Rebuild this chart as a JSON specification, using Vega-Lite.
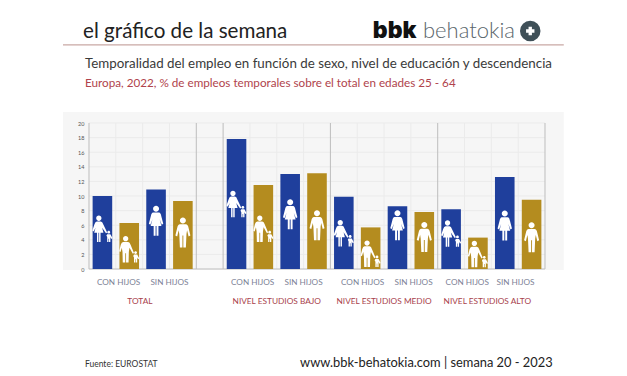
{
"$schema":"https://vega.github.io/schema/vega-lite/v6.json",
"width":456,"height":146,
"autosize":{"type":"none"},
"padding":{"left":89,"top":123,"right":82,"bottom":107},
"background":"white",
"config":{"view":{"stroke":null},"axisY":{"grid":false,"domain":false,"ticks":false,"labelFontSize":5.5,"labelColor":"#555555","labelFont":"Lato","labelPadding":5}},
"datasets":{
"barras":[
{"grupo":"TOTAL","hijos":"CON HIJOS","sexo":"Mujer","barra":1,"valor":10.0,"icono":5.5},
{"grupo":"TOTAL","hijos":"CON HIJOS","sexo":"Hombre","barra":2,"valor":6.3,"icono":2.7},
{"grupo":"TOTAL","hijos":"SIN HIJOS","sexo":"Mujer","barra":3,"valor":10.9,"icono":6.6},
{"grupo":"TOTAL","hijos":"SIN HIJOS","sexo":"Hombre","barra":4,"valor":9.3,"icono":5.0},
{"grupo":"NIVEL ESTUDIOS BAJO","hijos":"CON HIJOS","sexo":"Mujer","barra":6,"valor":17.8,"icono":8.9},
{"grupo":"NIVEL ESTUDIOS BAJO","hijos":"CON HIJOS","sexo":"Hombre","barra":7,"valor":11.5,"icono":5.5},
{"grupo":"NIVEL ESTUDIOS BAJO","hijos":"SIN HIJOS","sexo":"Mujer","barra":8,"valor":13.0,"icono":7.5},
{"grupo":"NIVEL ESTUDIOS BAJO","hijos":"SIN HIJOS","sexo":"Hombre","barra":9,"valor":13.1,"icono":6.0},
{"grupo":"NIVEL ESTUDIOS MEDIO","hijos":"CON HIJOS","sexo":"Mujer","barra":10,"valor":9.9,"icono":4.9},
{"grupo":"NIVEL ESTUDIOS MEDIO","hijos":"CON HIJOS","sexo":"Hombre","barra":11,"valor":5.7,"icono":2.1},
{"grupo":"NIVEL ESTUDIOS MEDIO","hijos":"SIN HIJOS","sexo":"Mujer","barra":12,"valor":8.6,"icono":6.0},
{"grupo":"NIVEL ESTUDIOS MEDIO","hijos":"SIN HIJOS","sexo":"Hombre","barra":13,"valor":7.8,"icono":4.4},
{"grupo":"NIVEL ESTUDIOS ALTO","hijos":"CON HIJOS","sexo":"Mujer","barra":14,"valor":8.2,"icono":4.85},
{"grupo":"NIVEL ESTUDIOS ALTO","hijos":"CON HIJOS","sexo":"Hombre","barra":15,"valor":4.3,"icono":2.05},
{"grupo":"NIVEL ESTUDIOS ALTO","hijos":"SIN HIJOS","sexo":"Mujer","barra":16,"valor":12.6,"icono":5.95},
{"grupo":"NIVEL ESTUDIOS ALTO","hijos":"SIN HIJOS","sexo":"Hombre","barra":17,"valor":9.5,"icono":4.35}
],
"hijos":[
{"t":"CON HIJOS","p":1.1},{"t":"SIN HIJOS","p":3.0},
{"t":"CON HIJOS","p":6.1},{"t":"SIN HIJOS","p":8.0},
{"t":"CON HIJOS","p":10.2},{"t":"SIN HIJOS","p":12.1},
{"t":"CON HIJOS","p":14.1},{"t":"SIN HIJOS","p":15.9}
],
"grupos":[
{"t":"TOTAL","p":1.9},{"t":"NIVEL ESTUDIOS BAJO","p":7.0},
{"t":"NIVEL ESTUDIOS MEDIO","p":11.0},{"t":"NIVEL ESTUDIOS ALTO","p":14.85}
]
},
"resolve":{"scale":{"x":"independent","shape":"independent"}},
"layer":[
{"data":{"values":[{"z":"fondo"}]},"mark":{"type":"rect","fill":"#f6f6f6"},
 "encoding":{"x":{"datum":-0.97,"type":"quantitative","scale":{"domain":[0,17]},"axis":null},"x2":{"datum":17.7},
 "y":{"datum":-0.14,"type":"quantitative","scale":{"domain":[0,20]},"title":null,"axis":{"zindex":1,"values":[0,2,4,6,8,10,12,14,16,18,20]}},"y2":{"datum":21.5}}},
{"data":{"values":[{"v":2},{"v":4},{"v":6},{"v":8},{"v":10},{"v":12},{"v":14},{"v":16},{"v":18},{"v":20}]},"mark":{"type":"rule","stroke":"#ebebeb","strokeWidth":1},
 "encoding":{"y":{"field":"v","type":"quantitative","scale":{"domain":[0,20]},"title":null,"axis":{"zindex":1,"values":[0,2,4,6,8,10,12,14,16,18,20]}},
 "x":{"datum":0,"type":"quantitative","scale":{"domain":[0,17]},"axis":null},"x2":{"datum":17}}},
{"data":{"values":[{"v":1},{"v":2},{"v":3},{"v":6},{"v":7},{"v":8},{"v":10},{"v":11},{"v":12},{"v":14},{"v":15},{"v":16}]},"mark":{"type":"rule","stroke":"#ebebeb","strokeWidth":1},
 "encoding":{"x":{"field":"v","type":"quantitative","scale":{"domain":[0,17]},"axis":null},
 "y":{"datum":0,"type":"quantitative","scale":{"domain":[0,20]},"title":null,"axis":{"zindex":1,"values":[0,2,4,6,8,10,12,14,16,18,20]}},"y2":{"datum":20}}},
{"data":{"values":[{"v":0},{"v":4},{"v":5},{"v":9},{"v":13},{"v":17}]},"mark":{"type":"rule","stroke":"#bdbdbd","strokeWidth":1},
 "encoding":{"x":{"field":"v","type":"quantitative","scale":{"domain":[0,17]},"axis":null},
 "y":{"datum":0,"type":"quantitative","scale":{"domain":[0,20]},"title":null,"axis":{"zindex":1,"values":[0,2,4,6,8,10,12,14,16,18,20]}},"y2":{"datum":20}}},
{"data":{"values":[{"z":"base"}]},"mark":{"type":"rule","stroke":"#bdbdbd","strokeWidth":1},
 "encoding":{"x":{"datum":0,"type":"quantitative","scale":{"domain":[0,17]},"axis":null},"x2":{"datum":17},
 "y":{"datum":0,"type":"quantitative","scale":{"domain":[0,20]},"title":null,"axis":{"zindex":1,"values":[0,2,4,6,8,10,12,14,16,18,20]}}}},
{"data":{"name":"barras"},"mark":{"type":"bar"},
 "encoding":{"x":{"field":"barra","type":"ordinal","scale":{"type":"band","domain":[1,2,3,4,5,6,7,8,9,10,11,12,13,14,15,16,17],"paddingInner":0.27,"paddingOuter":0.135},"axis":null},
 "y":{"field":"valor","type":"quantitative","scale":{"domain":[0,20]},"title":null,"axis":{"zindex":1,"values":[0,2,4,6,8,10,12,14,16,18,20]}},
 "color":{"field":"sexo","type":"nominal","scale":{"domain":["Mujer","Hombre"],"range":["#1f3f9c","#b48c1f"]},"legend":null}}},
{"data":{"name":"barras"},"transform":[{"filter":"datum.hijos=='CON HIJOS'"}],
 "mark":{"type":"point","filled":true,"fill":"white","opacity":1,"size":700},
 "encoding":{"x":{"field":"barra","type":"ordinal","scale":{"type":"band","domain":[1,2,3,4,5,6,7,8,9,10,11,12,13,14,15,16,17],"paddingInner":0.27,"paddingOuter":0.135},"axis":null},
 "y":{"field":"icono","type":"quantitative","scale":{"domain":[0,20]},"title":null,"axis":{"zindex":1,"values":[0,2,4,6,8,10,12,14,16,18,20]}},
 "shape":{"field":"sexo","type":"nominal","legend":null,"scale":{"domain":["Mujer","Hombre"],"range":[
 "M-0.27,-1A0.2,0.2 0 1,1 -0.27,-0.6A0.2,0.2 0 1,1 -0.27,-1ZM-0.42,-0.56L-0.12,-0.56Q0,-0.56 0.06,-0.34L0.36,0.28L0.27,0.34L-0.02,-0.08L0.08,0.3L-0.14,0.3L-0.14,1L-0.25,1L-0.25,0.3L-0.3,0.3L-0.3,1L-0.41,1L-0.41,0.3L-0.62,0.3L-0.52,-0.08L-0.66,0.2L-0.76,0.12L-0.6,-0.34Q-0.54,-0.56 -0.42,-0.56ZM0.48,0.14A0.11,0.11 0 1,1 0.48,0.36A0.11,0.11 0 1,1 0.48,0.14ZM0.36,0.4L0.6,0.4L0.76,0.7L0.67,0.76L0.6,0.62L0.6,1L0.5,1L0.5,0.75L0.46,0.75L0.46,1L0.36,1L0.36,0.62L0.3,0.5Z",
 "M-0.27,-1A0.2,0.2 0 1,1 -0.27,-0.6A0.2,0.2 0 1,1 -0.27,-1ZM-0.46,-0.56L-0.08,-0.56Q0.04,-0.56 0.1,-0.34L0.36,0.28L0.27,0.34L0.02,-0.12L-0.03,0.2L-0.05,1L-0.24,1L-0.24,0.3L-0.3,0.3L-0.3,1L-0.49,1L-0.51,0.2L-0.56,-0.12L-0.66,0.2L-0.76,0.14L-0.64,-0.34Q-0.58,-0.56 -0.46,-0.56ZM0.48,0.14A0.11,0.11 0 1,1 0.48,0.36A0.11,0.11 0 1,1 0.48,0.14ZM0.36,0.4L0.6,0.4L0.76,0.7L0.67,0.76L0.6,0.62L0.6,1L0.5,1L0.5,0.75L0.46,0.75L0.46,1L0.36,1L0.36,0.62L0.3,0.5Z"
 ]}}}},
{"data":{"name":"barras"},"transform":[{"filter":"datum.hijos=='SIN HIJOS'"}],
 "mark":{"type":"point","filled":true,"fill":"white","opacity":1,"size":900},
 "encoding":{"x":{"field":"barra","type":"ordinal","scale":{"type":"band","domain":[1,2,3,4,5,6,7,8,9,10,11,12,13,14,15,16,17],"paddingInner":0.27,"paddingOuter":0.135},"axis":null},
 "y":{"field":"icono","type":"quantitative","scale":{"domain":[0,20]},"title":null,"axis":{"zindex":1,"values":[0,2,4,6,8,10,12,14,16,18,20]}},
 "shape":{"field":"sexo","type":"nominal","legend":null,"scale":{"domain":["Mujer","Hombre"],"range":[
 "M0,-1A0.2,0.2 0 1,1 0,-0.6A0.2,0.2 0 1,1 0,-1ZM-0.2,-0.55L0.2,-0.55Q0.3,-0.55 0.35,-0.3L0.48,0.2L0.38,0.26L0.24,-0.1L0.36,0.35L0.16,0.35L0.16,1L0.03,1L0.03,0.35L-0.03,0.35L-0.03,1L-0.16,1L-0.16,0.35L-0.36,0.35L-0.24,-0.1L-0.38,0.26L-0.48,0.2L-0.35,-0.3Q-0.3,-0.55 -0.2,-0.55Z",
 "M0,-1A0.2,0.2 0 1,1 0,-0.6A0.2,0.2 0 1,1 0,-1ZM-0.2,-0.55L0.2,-0.55Q0.33,-0.55 0.38,-0.3L0.5,0.2L0.38,0.26L0.28,-0.15L0.24,0.1L0.2,1L0.03,1L0.03,0.2L-0.03,0.2L-0.03,1L-0.2,1L-0.24,0.1L-0.28,-0.15L-0.38,0.26L-0.5,0.2L-0.38,-0.3Q-0.33,-0.55 -0.2,-0.55Z"
 ]}}}},
{"data":{"name":"hijos"},"mark":{"type":"text","font":"Lato","fontSize":8.2,"fill":"#7d8296"},
 "encoding":{"x":{"field":"p","type":"quantitative","scale":{"domain":[0,17]},"axis":null},
 "y":{"datum":-1.9,"type":"quantitative","scale":{"domain":[0,20]},"title":null,"axis":{"zindex":1,"values":[0,2,4,6,8,10,12,14,16,18,20]}},"text":{"field":"t"}}},
{"data":{"name":"grupos"},"mark":{"type":"text","font":"Lato","fontSize":8.3,"fill":"#a8424c"},
 "encoding":{"x":{"field":"p","type":"quantitative","scale":{"domain":[0,17]},"axis":null},
 "y":{"datum":-4.5,"type":"quantitative","scale":{"domain":[0,20]},"title":null,"axis":{"zindex":1,"values":[0,2,4,6,8,10,12,14,16,18,20]}},"text":{"field":"t"}}},
{"data":{"values":[{"z":"linea"}]},"mark":{"type":"rule","stroke":"#c9a8a4","strokeWidth":1.2},
 "encoding":{"x":{"datum":-0.97,"type":"quantitative","scale":{"domain":[0,17]},"axis":null},"x2":{"datum":17.7},
 "y":{"datum":30.7,"type":"quantitative","scale":{"domain":[0,20]},"title":null,"axis":{"zindex":1,"values":[0,2,4,6,8,10,12,14,16,18,20]}}}},
{"data":{"values":[{"t":"el gráfico de la semana"}]},"mark":{"type":"text","font":"Lato","fontSize":20.6,"align":"left","baseline":"alphabetic","fill":"#222222"},
 "encoding":{"x":{"datum":-0.22,"type":"quantitative","scale":{"domain":[0,17]},"axis":null},
 "y":{"datum":31.7,"type":"quantitative","scale":{"domain":[0,20]},"title":null,"axis":{"zindex":1,"values":[0,2,4,6,8,10,12,14,16,18,20]}},"text":{"field":"t"}}},
{"data":{"values":[{"t":"bbk"}]},"mark":{"type":"text","font":"Inter","fontWeight":900,"fontSize":23,"align":"left","baseline":"alphabetic","fill":"#111111"},
 "encoding":{"x":{"datum":10.58,"type":"quantitative","scale":{"domain":[0,17]},"axis":null},
 "y":{"datum":31.7,"type":"quantitative","scale":{"domain":[0,20]},"title":null,"axis":{"zindex":1,"values":[0,2,4,6,8,10,12,14,16,18,20]}},"text":{"field":"t"}}},
{"data":{"values":[{"t":"behatokia"}]},"mark":{"type":"text","font":"Lato","fontWeight":300,"fontSize":22,"align":"left","baseline":"alphabetic","fill":"#5a666c"},
 "encoding":{"x":{"datum":12.45,"type":"quantitative","scale":{"domain":[0,17]},"axis":null},
 "y":{"datum":31.7,"type":"quantitative","scale":{"domain":[0,20]},"title":null,"axis":{"zindex":1,"values":[0,2,4,6,8,10,12,14,16,18,20]}},"text":{"field":"t"}}},
{"data":{"values":[{"z":"logo"}]},"mark":{"type":"point","filled":true,"shape":"circle","fill":"#3f5058","opacity":1,"size":420},
 "encoding":{"x":{"datum":16.45,"type":"quantitative","scale":{"domain":[0,17]},"axis":null},
 "y":{"datum":32.6,"type":"quantitative","scale":{"domain":[0,20]},"title":null,"axis":{"zindex":1,"values":[0,2,4,6,8,10,12,14,16,18,20]}}}},
{"data":{"values":[{"z":"mas"}]},"mark":{"type":"point","filled":true,"shape":"cross","fill":"white","opacity":1,"size":70},
 "encoding":{"x":{"datum":16.45,"type":"quantitative","scale":{"domain":[0,17]},"axis":null},
 "y":{"datum":32.6,"type":"quantitative","scale":{"domain":[0,20]},"title":null,"axis":{"zindex":1,"values":[0,2,4,6,8,10,12,14,16,18,20]}}}},
{"data":{"values":[{"t":"Temporalidad del empleo en función de sexo, nivel de educación y descendencia"}]},"mark":{"type":"text","font":"Lato","fontSize":13.35,"align":"left","baseline":"alphabetic","fill":"#3a3a3a"},
 "encoding":{"x":{"datum":-0.15,"type":"quantitative","scale":{"domain":[0,17]},"axis":null},
 "y":{"datum":27.6,"type":"quantitative","scale":{"domain":[0,20]},"title":null,"axis":{"zindex":1,"values":[0,2,4,6,8,10,12,14,16,18,20]}},"text":{"field":"t"}}},
{"data":{"values":[{"t":"Europa, 2022, % de empleos temporales sobre el total en edades  25 - 64"}]},"mark":{"type":"text","font":"Lato","fontSize":11.7,"align":"left","baseline":"alphabetic","fill":"#b0434c"},
 "encoding":{"x":{"datum":-0.15,"type":"quantitative","scale":{"domain":[0,17]},"axis":null},
 "y":{"datum":24.9,"type":"quantitative","scale":{"domain":[0,20]},"title":null,"axis":{"zindex":1,"values":[0,2,4,6,8,10,12,14,16,18,20]}},"text":{"field":"t"}}},
{"data":{"values":[{"t":"Fuente: EUROSTAT"}]},"mark":{"type":"text","font":"Lato","fontSize":8.5,"align":"left","baseline":"alphabetic","fill":"#333333"},
 "encoding":{"x":{"datum":-0.15,"type":"quantitative","scale":{"domain":[0,17]},"axis":null},
 "y":{"datum":-13.4,"type":"quantitative","scale":{"domain":[0,20]},"title":null,"axis":{"zindex":1,"values":[0,2,4,6,8,10,12,14,16,18,20]}},"text":{"field":"t"}}},
{"data":{"values":[{"t":"www.bbk-behatokia.com | semana 20 - 2023"}]},"mark":{"type":"text","font":"Lato","fontSize":12.85,"align":"left","baseline":"alphabetic","fill":"#222222"},
 "encoding":{"x":{"datum":7.87,"type":"quantitative","scale":{"domain":[0,17]},"axis":null},
 "y":{"datum":-13.4,"type":"quantitative","scale":{"domain":[0,20]},"title":null,"axis":{"zindex":1,"values":[0,2,4,6,8,10,12,14,16,18,20]}},"text":{"field":"t"}}}
]
}
